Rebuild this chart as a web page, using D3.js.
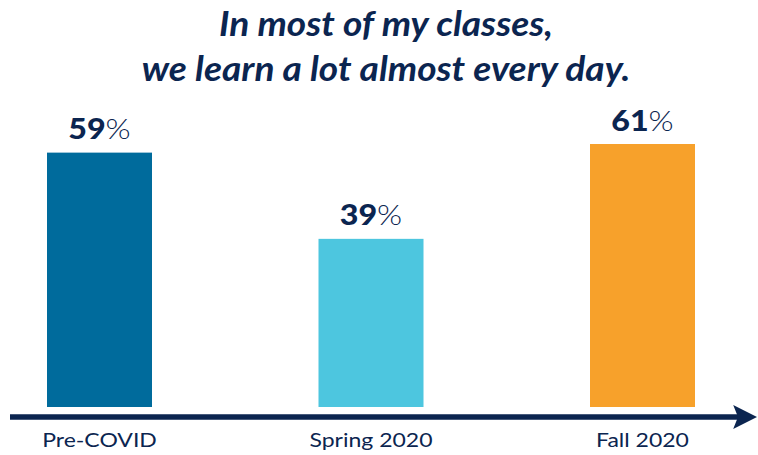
<!DOCTYPE html>
<html>
<head>
<meta charset="utf-8">
<script src="https://cdn.jsdelivr.net/npm/d3@7"></script>
<style>
  html, body { margin: 0; padding: 0; background: #fff; }
  svg { display: block; font-family: Lato, "Open Sans", sans-serif; }
</style>
</head>
<body>
<svg id="chart" width="758" height="455"></svg>
<script>
// data
const categories = ["Pre-COVID", "Spring 2020", "Fall 2020"]
const values = [59, 39, 61]
const barColors = ["#006b9c", "#4dc6df", "#f7a12b"]
const titleLines = ["In most of my classes,", "we learn a lot almost every day."]

const NAVY = "#0b2550"
const W = 758, H = 455
const BASE_Y = 407 // bottom of bars
const BAR_W = 105
const STRETCH = 1.15 // reference text looks a bit wider than plain Lato

const svg = d3.select("#chart")

// scales
const x = d3.scalePoint().domain(categories).range([99.5, 642.5])
const y = d3.scaleLinear().domain([0, 61]).range([BASE_Y, 144])

// title
svg.selectAll("g.title")
  .data(titleLines)
  .join("g")
  .attr("class", "title")
  .attr("transform", (d, i) => `translate(${W / 2 + 7},${36 + i * 45}) scale(1.06,1)`)
  .append("text")
  .attr("text-anchor", "middle")
  .attr("fill", NAVY)
  .style("font-size", "35px")
  .style("font-weight", 700)
  .style("font-style", "italic")
  .text(d => d)

// bars
const rows = categories.map((c, i) => ({ cat: c, val: values[i], color: barColors[i] }))

svg.append("g")
  .selectAll("rect")
  .data(rows)
  .join("rect")
  .attr("x", d => x(d.cat) - BAR_W / 2)
  .attr("y", d => y(d.val))
  .attr("width", BAR_W)
  .attr("height", d => BASE_Y - y(d.val))
  .attr("fill", d => d.color)

// value labels: bold number + light percent sign
const lab = svg.append("g")
  .selectAll("g")
  .data(rows)
  .join("g")
  .attr("transform", d => `translate(${x(d.cat)},${y(d.val) - 13.5}) scale(${STRETCH},1)`)
  .append("text")
  .attr("text-anchor", "middle")
  .attr("fill", NAVY)
  .style("font-size", "28px")

lab.append("tspan").style("font-weight", 900).text(d => d.val)
lab.append("tspan").style("font-weight", 300).text("%")

// axis line with arrow
const defs = svg.append("defs")
defs.append("marker")
  .attr("id", "arrow")
  .attr("viewBox", "0 0 10 10")
  .attr("refX", 2)
  .attr("refY", 5)
  .attr("markerUnits", "userSpaceOnUse")
  .attr("markerWidth", 24)
  .attr("markerHeight", 28)
  .attr("orient", "auto")
  .append("path")
  .attr("d", "M0,0 L10,5 L0,10 L2,5 Z")
  .attr("fill", NAVY)

svg.append("line")
  .attr("x1", 10)
  .attr("x2", 738)
  .attr("y1", 417)
  .attr("y2", 417)
  .attr("stroke", NAVY)
  .attr("stroke-width", 5.5)
  .attr("marker-end", "url(#arrow)")

// category labels
svg.append("g")
  .selectAll("g")
  .data(categories)
  .join("g")
  .attr("transform", d => `translate(${x(d)},447) scale(${STRETCH},1)`)
  .append("text")
  .attr("text-anchor", "middle")
  .attr("fill", NAVY)
  .style("font-size", "20px")
  .text(d => d)
</script>
</body>
</html>
